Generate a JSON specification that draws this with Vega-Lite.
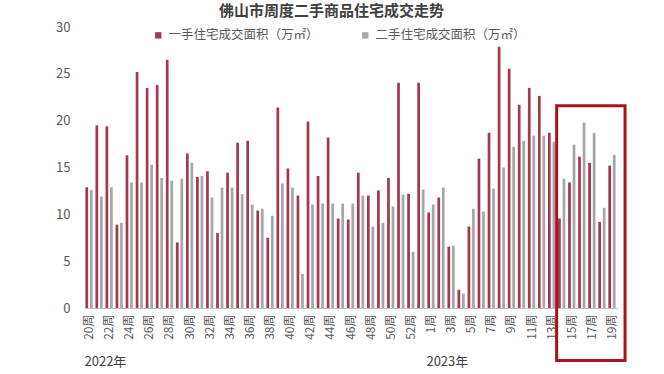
{
  "$schema": "https://vega.github.io/schema/vega-lite/v6.json",
  "width": 533,
  "height": 281,
  "autosize": {"type": "none"},
  "padding": {"left": 84, "top": 27, "right": 47, "bottom": 66},
  "background": "white",
  "title": {"text": "佛山市周度二手商品住宅成交走势", "fontSize": 15, "fontWeight": "bold", "font": "Noto Sans CJK SC", "color": "#404040", "anchor": "middle", "dx": -19, "offset": 2},
  "config": {"view": {"stroke": null}, "font": "Noto Sans CJK SC"},
  "datasets": {
    "weekly": [
      {"week": "20周", "new": 12.9, "used": 12.6},
      {"week": "21周", "new": 19.5, "used": 11.9},
      {"week": "22周", "new": 19.4, "used": 12.9},
      {"week": "23周", "new": 8.9, "used": 9.1},
      {"week": "24周", "new": 16.3, "used": 13.4},
      {"week": "25周", "new": 25.2, "used": 13.4},
      {"week": "26周", "new": 23.5, "used": 15.3},
      {"week": "27周", "new": 23.8, "used": 13.9},
      {"week": "28周", "new": 26.5, "used": 13.6},
      {"week": "29周", "new": 7.0, "used": 13.8},
      {"week": "30周", "new": 16.5, "used": 15.5},
      {"week": "31周", "new": 14.0, "used": 14.1},
      {"week": "32周", "new": 14.6, "used": 11.8},
      {"week": "33周", "new": 8.0, "used": 12.85},
      {"week": "34周", "new": 14.45, "used": 12.85},
      {"week": "35周", "new": 17.65, "used": 12.15},
      {"week": "36周", "new": 17.85, "used": 11.05},
      {"week": "37周", "new": 10.4, "used": 10.6},
      {"week": "38周", "new": 7.5, "used": 9.85},
      {"week": "39周", "new": 21.4, "used": 13.3},
      {"week": "40周", "new": 14.9, "used": 12.85},
      {"week": "41周", "new": 12.0, "used": 3.65},
      {"week": "42周", "new": 19.9, "used": 11.05},
      {"week": "43周", "new": 14.1, "used": 11.15},
      {"week": "44周", "new": 18.2, "used": 11.15},
      {"week": "45周", "new": 9.55, "used": 11.15},
      {"week": "46周", "new": 9.45, "used": 11.15},
      {"week": "47周", "new": 14.45, "used": 12.0},
      {"week": "48周", "new": 12.0, "used": 8.7},
      {"week": "49周", "new": 12.55, "used": 9.1},
      {"week": "50周", "new": 13.9, "used": 10.85},
      {"week": "51周", "new": 24.05, "used": 12.1},
      {"week": "52周", "new": 12.2, "used": 6.0},
      {"week": "53周", "new": 24.05, "used": 12.65},
      {"week": "1周", "new": 10.2, "used": 11.05},
      {"week": "2周", "new": 11.8, "used": 12.85},
      {"week": "3周", "new": 6.55, "used": 6.65},
      {"week": "4周", "new": 1.95, "used": 1.55},
      {"week": "5周", "new": 8.7, "used": 10.6},
      {"week": "6周", "new": 15.95, "used": 10.3},
      {"week": "7周", "new": 18.7, "used": 12.75},
      {"week": "8周", "new": 27.9, "used": 15.0},
      {"week": "9周", "new": 25.55, "used": 17.2},
      {"week": "10周", "new": 21.7, "used": 17.85},
      {"week": "11周", "new": 23.5, "used": 18.4},
      {"week": "12周", "new": 22.65, "used": 18.4},
      {"week": "13周", "new": 18.7, "used": 17.75},
      {"week": "14周", "new": 9.55, "used": 13.8},
      {"week": "15周", "new": 13.4, "used": 17.45},
      {"week": "16周", "new": 16.15, "used": 19.8},
      {"week": "17周", "new": 15.5, "used": 18.7},
      {"week": "18周", "new": 9.2, "used": 10.7},
      {"week": "19周", "new": 15.2, "used": 16.35}
    ],
    "years": [
      {"week": "20周", "year": "2022年"},
      {"week": "1周", "year": "2023年"}
    ],
    "box": [
      {"x0": 47, "x1": 53.8, "y0": 21.6, "y1": -5.6}
    ]
  },
  "layer": [
    {
      "encoding": {
        "x": {
          "field": "week",
          "type": "nominal",
          "scale": {
            "domain": ["20周","21周","22周","23周","24周","25周","26周","27周","28周","29周","30周","31周","32周","33周","34周","35周","36周","37周","38周","39周","40周","41周","42周","43周","44周","45周","46周","47周","48周","49周","50周","51周","52周","53周","1周","2周","3周","4周","5周","6周","7周","8周","9周","10周","11周","12周","13周","14周","15周","16周","17周","18周","19周"],
            "paddingInner": 0.1,
            "paddingOuter": 0.05
          },
          "axis": {
            "title": null,
            "values": ["20周","22周","24周","26周","28周","30周","32周","34周","36周","38周","40周","42周","44周","46周","48周","50周","52周","1周","3周","5周","7周","9周","11周","13周","15周","17周","19周"],
            "labelAngle": -90,
            "labelAlign": "right",
            "labelBaseline": "middle",
            "labelFontSize": 12,
            "labelColor": "#595959",
            "labelPadding": 6,
            "ticks": false,
            "domainColor": "#bfbfbf",
            "labelOverlap": false
          }
        }
      },
      "layer": [
        {
          "data": {"name": "weekly"},
          "transform": [{"fold": ["new", "used"], "as": ["series", "value"]}],
          "mark": {"type": "bar"},
          "encoding": {
            "xOffset": {"field": "series", "type": "nominal", "scale": {"domain": ["new", "used"], "paddingInner": 0.4, "paddingOuter": 0.2}},
            "y": {
              "field": "value",
              "type": "quantitative",
              "scale": {"domain": [0, 30], "nice": false},
              "axis": {"title": null, "values": [0, 5, 10, 15, 20, 25, 30], "domain": false, "ticks": false, "grid": false, "labelFontSize": 13, "labelColor": "#595959", "labelPadding": 14}
            },
            "color": {
              "field": "series",
              "type": "nominal",
              "scale": {"domain": ["new", "used"], "range": ["#A3384F", "#A6A6A6"]},
              "legend": {
                "title": null,
                "orient": "none",
                "direction": "horizontal",
                "legendX": 68,
                "legendY": 2,
                "symbolType": "square",
                "symbolSize": 40,
                "labelFontSize": 12.5,
                "labelColor": "#595959",
                "columnPadding": 40,
                "labelExpr": "datum.label == 'new' ? '一手住宅成交面积（万㎡）' : '二手住宅成交面积（万㎡）'"
              }
            }
          }
        },
        {
          "data": {"name": "years"},
          "mark": {"type": "text", "align": "left", "baseline": "middle", "fontSize": 13, "color": "#404040", "clip": false},
          "encoding": {
            "x": {"field": "week", "type": "nominal", "bandPosition": 0},
            "y": {"datum": -5.75},
            "text": {"field": "year"}
          }
        }
      ]
    },
    {
      "data": {"name": "box"},
      "mark": {"type": "rect", "fill": "transparent", "stroke": "#A8141A", "strokeWidth": 3, "clip": false},
      "encoding": {
        "x": {"field": "x0", "type": "quantitative", "scale": {"domain": [0, 53], "nice": false, "zero": false}, "axis": null},
        "x2": {"field": "x1"},
        "y": {"field": "y0", "type": "quantitative"},
        "y2": {"field": "y1"}
      }
    }
  ],
  "resolve": {"scale": {"x": "independent"}}
}
